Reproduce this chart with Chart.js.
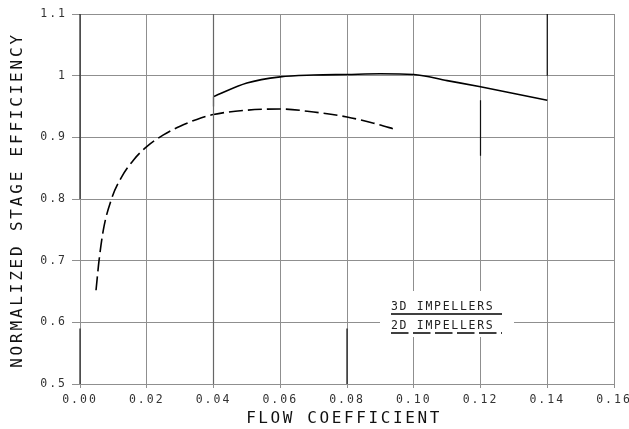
<!DOCTYPE html>
<html>
<head>
<meta charset="utf-8">
<script src="https://cdn.jsdelivr.net/npm/chart.js@4"></script>
<style>
html,body{margin:0;padding:0;background:#fff;}
#wrap{width:629px;height:429px;position:relative;}
</style>
</head>
<body>
<div id="wrap"><canvas id="c" width="629" height="429"></canvas></div>
<script>
// ---- data ----
const xTickLabels = ['0.00','0.02','0.04','0.06','0.08','0.10','0.12','0.14','0.16'];
const yTickLabels = ['0.5','0.6','0.7','0.8','0.9','1','1.1'];

const flow3D = [0.040, 0.050, 0.060, 0.070, 0.080, 0.090, 0.100, 0.110, 0.120, 0.130, 0.140];
const eff3D  = [0.966, 0.988, 0.998, 1.001, 1.002, 1.003, 1.002, 0.992, 0.982, 0.971, 0.960];

const flow2D = [0.0048, 0.0057, 0.0070, 0.0095, 0.0125, 0.0160, 0.0200, 0.0250, 0.0300, 0.0350, 0.0400, 0.0500, 0.0600, 0.0700, 0.0800, 0.0880, 0.0950];
const eff2D  = [0.652, 0.700, 0.750, 0.801, 0.836, 0.863, 0.885, 0.904, 0.918, 0.929, 0.937, 0.944, 0.946, 0.941, 0.933, 0.923, 0.912];

// darker vertical grid strokes seen in the original plot
const darkLineX    = [0,    0,    0.04, 0.04,  0.08, 0.12, 0.14];
const darkLineFrom = [1.1,  0.59, 1.1,  0.966, 0.59, 0.96, 1.1];
const darkLineTo   = [0.8,  0.5,  0.5,  0.950, 0.5,  0.87, 1.0];
const darkLineCol  = ['#222','#222','#666','#000','#111','#111','#111'];

const seriesLabels = ['3D IMPELLERS', '2D IMPELLERS'];
const xTitle = 'FLOW COEFFICIENT';
const yTitle = 'NORMALIZED STAGE EFFICIENCY';

const MONO = '"DejaVu Sans Mono", "Liberation Mono", monospace';

const datasets = [];
darkLineX.forEach((x, i) => {
  datasets.push({
    label: 'dark' + i,
    data: [{x: x, y: darkLineFrom[i]}, {x: x, y: darkLineTo[i]}],
    borderColor: darkLineCol[i],
    borderWidth: 1.2,
    pointRadius: 0,
    tension: 0,
    clip: 4
  });
});
datasets.push({
  label: seriesLabels[0],
  data: flow3D.map((x, i) => ({x: x, y: eff3D[i]})),
  borderColor: '#000',
  borderWidth: 1.6,
  pointRadius: 0,
  cubicInterpolationMode: 'monotone'
});
datasets.push({
  label: seriesLabels[1],
  data: flow2D.map((x, i) => ({x: x, y: eff2D[i]})),
  borderColor: '#000',
  borderWidth: 1.6,
  borderDash: [14, 5],
  pointRadius: 0,
  cubicInterpolationMode: 'monotone'
});

const textPlugin = {
  id: 'textPlugin',
  beforeDraw(chart) {
    chart.ctx.letterSpacing = '2px';
  },
  beforeDatasetsDraw(chart) {
    // white legend background covering the grid
    const ctx = chart.ctx, a = chart.chartArea;
    ctx.save();
    ctx.fillStyle = '#fff';
    ctx.fillRect(a.left + 300, a.top + 277, 134, 46);
    ctx.restore();
  },
  afterDraw(chart) {
    const ctx = chart.ctx, a = chart.chartArea;
    ctx.save();
    ctx.fillStyle = '#111';
    ctx.font = '16px ' + MONO;
    ctx.letterSpacing = '2.6px';
    ctx.textAlign = 'center';
    ctx.textBaseline = 'middle';
    ctx.fillText(xTitle, a.left + a.width / 2 - 3, a.bottom + 35);
    ctx.save();
    ctx.translate(18, (a.top + a.bottom) / 2 + 1);
    ctx.rotate(-Math.PI / 2);
    ctx.letterSpacing = '2.8px';
    ctx.fillText(yTitle, 0, 0);
    ctx.restore();

    // legend
    const lx = a.left + 311;
    ctx.font = '11.5px ' + MONO;
    ctx.letterSpacing = '1.7px';
    ctx.textAlign = 'left';
    ctx.textBaseline = 'alphabetic';
    ctx.fillStyle = '#222';
    ctx.fillText(seriesLabels[0], lx, a.top + 296);
    ctx.fillText(seriesLabels[1], lx, a.top + 314.5);
    ctx.strokeStyle = '#000';
    ctx.lineWidth = 1.5;
    ctx.beginPath();
    ctx.moveTo(lx, a.top + 300);
    ctx.lineTo(lx + 111, a.top + 300);
    ctx.stroke();
    ctx.setLineDash([17.5, 4.5]);
    ctx.beginPath();
    ctx.moveTo(lx, a.top + 319);
    ctx.lineTo(lx + 111, a.top + 319);
    ctx.stroke();
    ctx.restore();
  }
};

new Chart(document.getElementById('c'), {
  type: 'line',
  data: { datasets: datasets },
  options: {
    responsive: false,
    animation: false,
    events: [],
    layout: { padding: { left: 0, right: 15, top: 14, bottom: 0 } },
    plugins: { legend: { display: false }, tooltip: { enabled: false } },
    scales: {
      x: {
        type: 'linear',
        min: 0, max: 0.16,
        border: { display: false },
        grid: { color: '#8f8f8f', lineWidth: 1, tickLength: 4 },
        ticks: {
          stepSize: 0.02,
          padding: 5,
          color: '#333',
          font: { family: MONO, size: 11.5 },
          maxRotation: 0,
          autoSkip: false,
          callback: (v, i) => xTickLabels[i]
        },
        afterFit(s) { s.height = 45; s.paddingLeft = 0; s.paddingRight = 0; }
      },
      y: {
        type: 'linear',
        min: 0.5, max: 1.1,
        border: { display: false },
        grid: { color: '#8f8f8f', lineWidth: 1, tickLength: 8 },
        ticks: {
          stepSize: 0.1,
          padding: 5,
          color: '#333',
          font: { family: MONO, size: 11.5 },
          autoSkip: false,
          callback: (v, i) => yTickLabels[i]
        },
        afterFit(s) { s.width = 80; s.paddingTop = 0; s.paddingBottom = 0; }
      }
    }
  },
  plugins: [textPlugin]
});
</script>
</body>
</html>
